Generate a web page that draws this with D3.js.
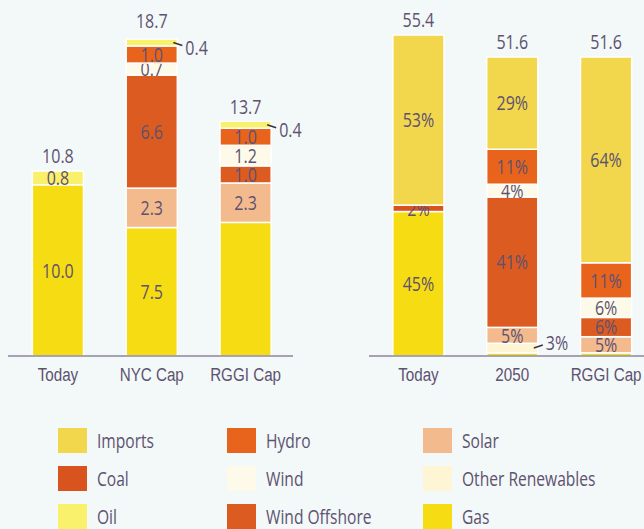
<!DOCTYPE html>
<html>
<head>
<meta charset="utf-8">
<script src="https://cdn.jsdelivr.net/npm/d3@7"></script>
<style>
	body { margin: 0; background: #f3f8f8; }
	svg { display: block; }
	text { font-family: "Open Sans", "Noto Sans", sans-serif; fill: #5d5270; }
</style>
</head>
<body>
<svg id="chart" width="644" height="529"></svg>
<script>
// categories of the two panels
var leftCats = ["Today", "NYC Cap", "RGGI Cap"];
var rightCats = ["Today", "2050", "RGGI Cap"];

// totals printed above bars
var leftTotals = [10.8, 18.7, 13.7];
var rightTotals = [55.4, 51.6, 51.6];

// left panel values (stack order bottom -> top)
var leftGas = [10.0, 7.5, 7.8];
var leftSolar = [0, 2.3, 2.3];
var leftWindOffshore = [0, 6.6, 1.0];
var leftWind = [0, 0.7, 1.2];
var leftHydro = [0, 1.0, 1.0];
var leftOil = [0.8, 0.4, 0.4];

// right panel shares in % (stack order bottom -> top)
var rightGas = [45, 1, 1];
var rightOther = [0, 3, 0];
var rightSolar = [0, 5, 5];
var rightWindOffshore = [0, 41, 6];
var rightCoal = [2, 0, 0];
var rightWind = [0, 4, 6];
var rightHydro = [0, 11, 11];
var rightImports = [53, 29, 64];

// legend (column by column)
var legendNames = ["Imports", "Coal", "Oil", "Hydro", "Wind", "Wind Offshore", "Solar", "Other Renewables", "Gas"];
var legendColors = ["#f2d64c", "#d8531d", "#f9f06c", "#e8631c", "#fdfaea", "#dc5b20", "#f3bb8d", "#fdf5d4", "#f6dc12"];

// labels drawn outside the bar with a leader line
var outsideLabels = [["NYC Cap", "Oil"], ["RGGI Cap", "Oil"], ["2050", "Other Renewables"]];
// segments that carry no label
var hiddenLabels = [["2050", "Gas"], ["RGGI Cap", "Gas"]];

var color = d3.scaleOrdinal(legendNames, legendColors);

var svg = d3.select("#chart");
var baseY = 356;
var squeeze = 0.8; // narrow the glyphs, the original face is condensed

function buildRows(cats, series) {
	return cats.map(function(c, i) {
		var r = {cat: c};
		series.forEach(function(s) { r[s[0]] = s[1][i]; });
		return r;
	});
}

function isIn(list, cat, key) {
	return list.some(function(p) { return p[0] === cat && p[1] === key; });
}

// condensed text placed at (x, y)
function putText(g, x, y, str, size, anchor) {
	return g.append("text")
		.attr("transform", "translate(" + x + "," + y + ") scale(" + squeeze + ",1)")
		.attr("dy", "0.36em")
		.attr("text-anchor", anchor || "middle")
		.attr("font-size", size)
		.text(str);
}

function drawPanel(opt) {
	var keys = opt.series.map(s => s[0]);
	var rows = buildRows(opt.cats, opt.series);
	var stack = d3.stack().keys(keys)(rows);

	var x = d3.scaleBand()
		.domain(opt.cats)
		.range(opt.xRange)
		.paddingInner(0.455)
		.paddingOuter(0.2275);

	var y = d3.scaleLinear()
		.domain([0, opt.maxVal])
		.range([baseY, baseY - opt.maxPx]);

	// factor per bar: percent shares are spread to fill the total
	var factor = opt.cats.map(function(c, i) {
		if (!opt.percent) return 1;
		var sum = d3.sum(keys, k => rows[i][k]);
		return opt.totals[i] / sum;
	});

	var g = svg.append("g");

	stack.forEach(function(layer) {
		layer.forEach(function(d, i) {
			var v = d[1] - d[0];
			if (v <= 0) return;
			var cat = opt.cats[i];
			var y0 = y(d[0] * factor[i]), y1 = y(d[1] * factor[i]);
			g.append("rect")
				.attr("x", x(cat))
				.attr("y", y1)
				.attr("width", x.bandwidth())
				.attr("height", y0 - y1)
				.attr("fill", color(layer.key))
				.attr("stroke", "#ffffff")
				.attr("stroke-width", 1.5);

			if (isIn(hiddenLabels, cat, layer.key)) return;
			var label = opt.percent ? v + "%" : d3.format(".1f")(v);
			var mid = (y0 + y1) / 2;
			if (isIn(outsideLabels, cat, layer.key)) {
				var xr = x(cat) + x.bandwidth();
				// near the baseline the leader goes up, at the top it goes down
				var dir = mid > baseY - 30 ? -1 : 1;
				g.append("line")
					.attr("x1", xr - 4).attr("y1", mid)
					.attr("x2", xr + 5).attr("y2", mid + 3 * dir)
					.attr("stroke", "#3a3040")
					.attr("stroke-width", 1.5);
				putText(g, xr + 8, mid + 5 * dir, label, 20, "start");
			} else {
				putText(g, x(cat) + x.bandwidth() / 2, mid, label, 20);
			}
		});
	});

	// totals
	opt.cats.forEach(function(c, i) {
		putText(g, x(c) + x.bandwidth() / 2, y(opt.totals[i]) - 15, d3.format(".1f")(opt.totals[i]), 20);
	});

	// baseline axis
	var axis = g.append("g")
		.attr("transform", "translate(0," + baseY + ")")
		.call(d3.axisBottom(x).tickSize(0).tickPadding(12));
	axis.select(".domain")
		.attr("d", "M" + opt.lineX[0] + ",0H" + opt.lineX[1])
		.attr("stroke", "#8c84a0")
		.attr("stroke-width", 1.5);
	axis.selectAll("text")
		.attr("font-size", 19)
		.attr("fill", "#5d5270")
		.attr("transform", "scale(" + squeeze + ",1)")
		.style("font-family", "inherit");
}

drawPanel({
	cats: leftCats,
	totals: leftTotals,
	percent: false,
	xRange: [11, 292.5],
	lineX: [8, 293],
	maxVal: 10.8,
	maxPx: 185,
	series: [
		["Gas", leftGas], ["Solar", leftSolar], ["Wind Offshore", leftWindOffshore],
		["Wind", leftWind], ["Hydro", leftHydro], ["Oil", leftOil]
	]
});

drawPanel({
	cats: rightCats,
	totals: rightTotals,
	percent: true,
	xRange: [371.5, 653],
	lineX: [369, 644],
	maxVal: 55.4,
	maxPx: 321,
	series: [
		["Gas", rightGas], ["Other Renewables", rightOther], ["Solar", rightSolar],
		["Wind Offshore", rightWindOffshore], ["Coal", rightCoal], ["Wind", rightWind],
		["Hydro", rightHydro], ["Imports", rightImports]
	]
});

// legend
var colX = [58, 227, 423];
var rowY = [428, 466, 504];
var leg = svg.append("g")
	.selectAll("g")
	.data(legendNames)
	.enter().append("g")
		.attr("transform", (d, i) => "translate(" + colX[Math.floor(i / 3)] + "," + rowY[i % 3] + ")");

leg.append("rect")
	.attr("width", 29)
	.attr("height", 25)
	.attr("fill", d => color(d));

leg.each(function(d) {
	putText(d3.select(this), 39, 13, d, 19.5, "start");
});
</script>
</body>
</html>
